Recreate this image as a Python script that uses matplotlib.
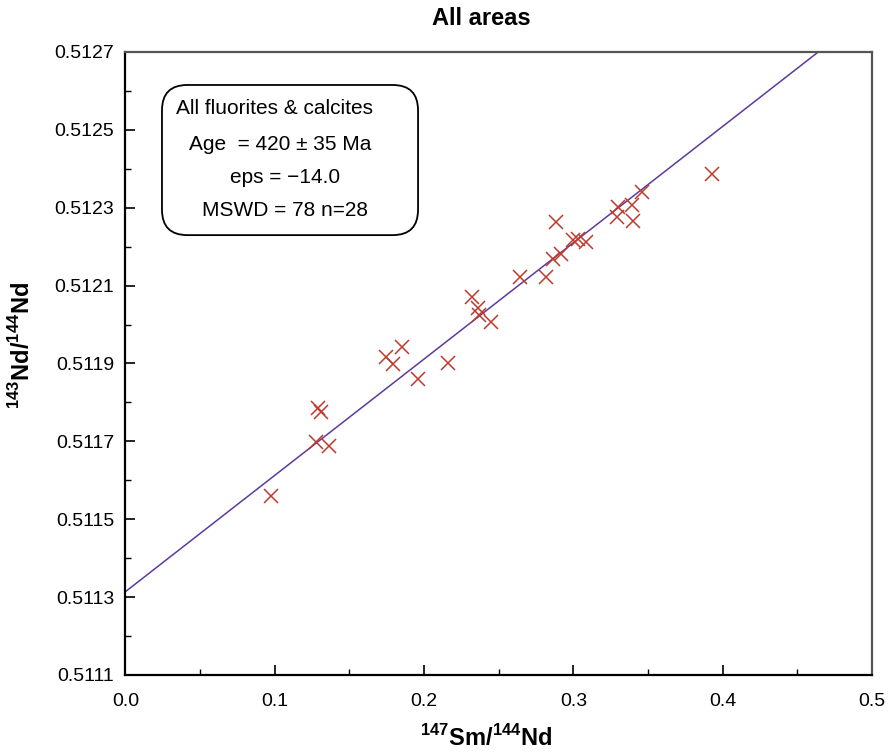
import numpy as np
import matplotlib
matplotlib.use('Agg')
import matplotlib.pyplot as plt
from matplotlib.patches import FancyBboxPatch
from matplotlib.ticker import MultipleLocator, FixedLocator, FormatStrFormatter

plt.rcParams['font.family'] = ['Liberation Sans', 'DejaVu Sans']
plt.rcParams['mathtext.fontset'] = 'custom'
plt.rcParams['mathtext.rm'] = 'Liberation Sans'
plt.rcParams['mathtext.bf'] = 'Liberation Sans:bold'

# 147Sm/144Nd and 143Nd/144Nd for all fluorites & calcites
sm_nd = [0.0975, 0.1274, 0.1363, 0.1291, 0.1307, 0.1745, 0.1794, 0.1854,
         0.1961, 0.2162, 0.2319, 0.2363, 0.2370, 0.2446, 0.2642, 0.2816,
         0.2865, 0.2881, 0.2917, 0.2999, 0.3033, 0.3084, 0.3290, 0.3301,
         0.3390, 0.3401, 0.3457, 0.3926]
nd_nd = [0.511560, 0.511699, 0.511688, 0.511785, 0.511775, 0.511916, 0.511899, 0.511942,
         0.511861, 0.511901, 0.512070, 0.512042, 0.512025, 0.512007, 0.512121, 0.512123,
         0.512168, 0.512263, 0.512180, 0.512217, 0.512219, 0.512211, 0.512276, 0.512303,
         0.512307, 0.512266, 0.512341, 0.512387]

# isochron fit
intercept = 0.511314
slope = 0.002987
line_x = [0.0, 0.5]

y_major = [0.5111, 0.5113, 0.5115, 0.5117, 0.5119, 0.5121, 0.5123, 0.5125, 0.5127]
y_minor = [0.5112, 0.5114, 0.5116, 0.5118, 0.5120, 0.5122, 0.5124, 0.5126]

box_lines = ['All fluorites & calcites', 'Age  = 420 \u00b1 35 Ma',
             'eps = \u221214.0', 'MSWD = 78 n=28']

fig = plt.figure(figsize=(8.88, 7.54), dpi=100)
ax = fig.add_axes([0.1413, 0.1048, 0.8407, 0.8263])

ly = [intercept + slope * v for v in line_x]
ax.plot(line_x, ly, color='#5b3b9c', lw=1.1, zorder=2)
ax.plot(sm_nd, nd_nd, 'x', color='#c0392b', ms=10, mew=1.1, zorder=3)

ax.set_xlim(0, 0.5)
ax.set_ylim(0.5111, 0.5127)
ax.xaxis.set_major_locator(MultipleLocator(0.1))
ax.xaxis.set_minor_locator(MultipleLocator(0.05))
ax.yaxis.set_major_locator(FixedLocator(y_major))
ax.yaxis.set_minor_locator(FixedLocator(y_minor))
ax.xaxis.set_major_formatter(FormatStrFormatter('%.1f'))
ax.yaxis.set_major_formatter(FormatStrFormatter('%.4f'))
ax.tick_params(which='both', direction='in', top=False, right=False, labelsize=14)
ax.tick_params(which='major', length=7, width=1.2)
ax.tick_params(which='minor', length=4, width=1)
ax.tick_params(axis='y', pad=8)
ax.tick_params(axis='x', pad=13)

for s in ['left', 'bottom']:
    ax.spines[s].set_linewidth(1.6)
    ax.spines[s].set_color('black')
for s in ['top', 'right']:
    ax.spines[s].set_linewidth(1.6)
    ax.spines[s].set_color('#555555')

box = FancyBboxPatch((0.0489, 0.706), 0.343, 0.241,
                     boxstyle='round,pad=0,rounding_size=0.034',
                     mutation_aspect=1.2, transform=ax.transAxes,
                     fc='white', ec='black', lw=1.3, zorder=4)
ax.add_patch(box)
ax.text(0.0677, 0.9085, box_lines[0], transform=ax.transAxes, fontsize=15,
        ha='left', va='center', zorder=5)
ax.text(0.207, 0.8507, box_lines[1], transform=ax.transAxes, fontsize=15,
        ha='center', va='center', zorder=5)
ax.text(0.2137, 0.799, box_lines[2], transform=ax.transAxes, fontsize=15,
        ha='center', va='center', zorder=5)
ax.text(0.2137, 0.746, box_lines[3], transform=ax.transAxes, fontsize=15,
        ha='center', va='center', zorder=5)

fig.text(0.5417, 0.976, 'All areas', fontsize=17, fontweight='bold',
         ha='center', va='center')
fig.text(0.548, 1 - 738 / 754, r'$^{\mathbf{147}}$Sm/$^{\mathbf{144}}$Nd',
         fontsize=17, fontweight='bold', ha='center', va='center')
fig.text(22 / 888, 1 - 345 / 754, r'$^{\mathbf{143}}$Nd/$^{\mathbf{144}}$Nd',
         fontsize=17, fontweight='bold', ha='center', va='center', rotation=90)

fig.savefig('out.png', dpi=100)
